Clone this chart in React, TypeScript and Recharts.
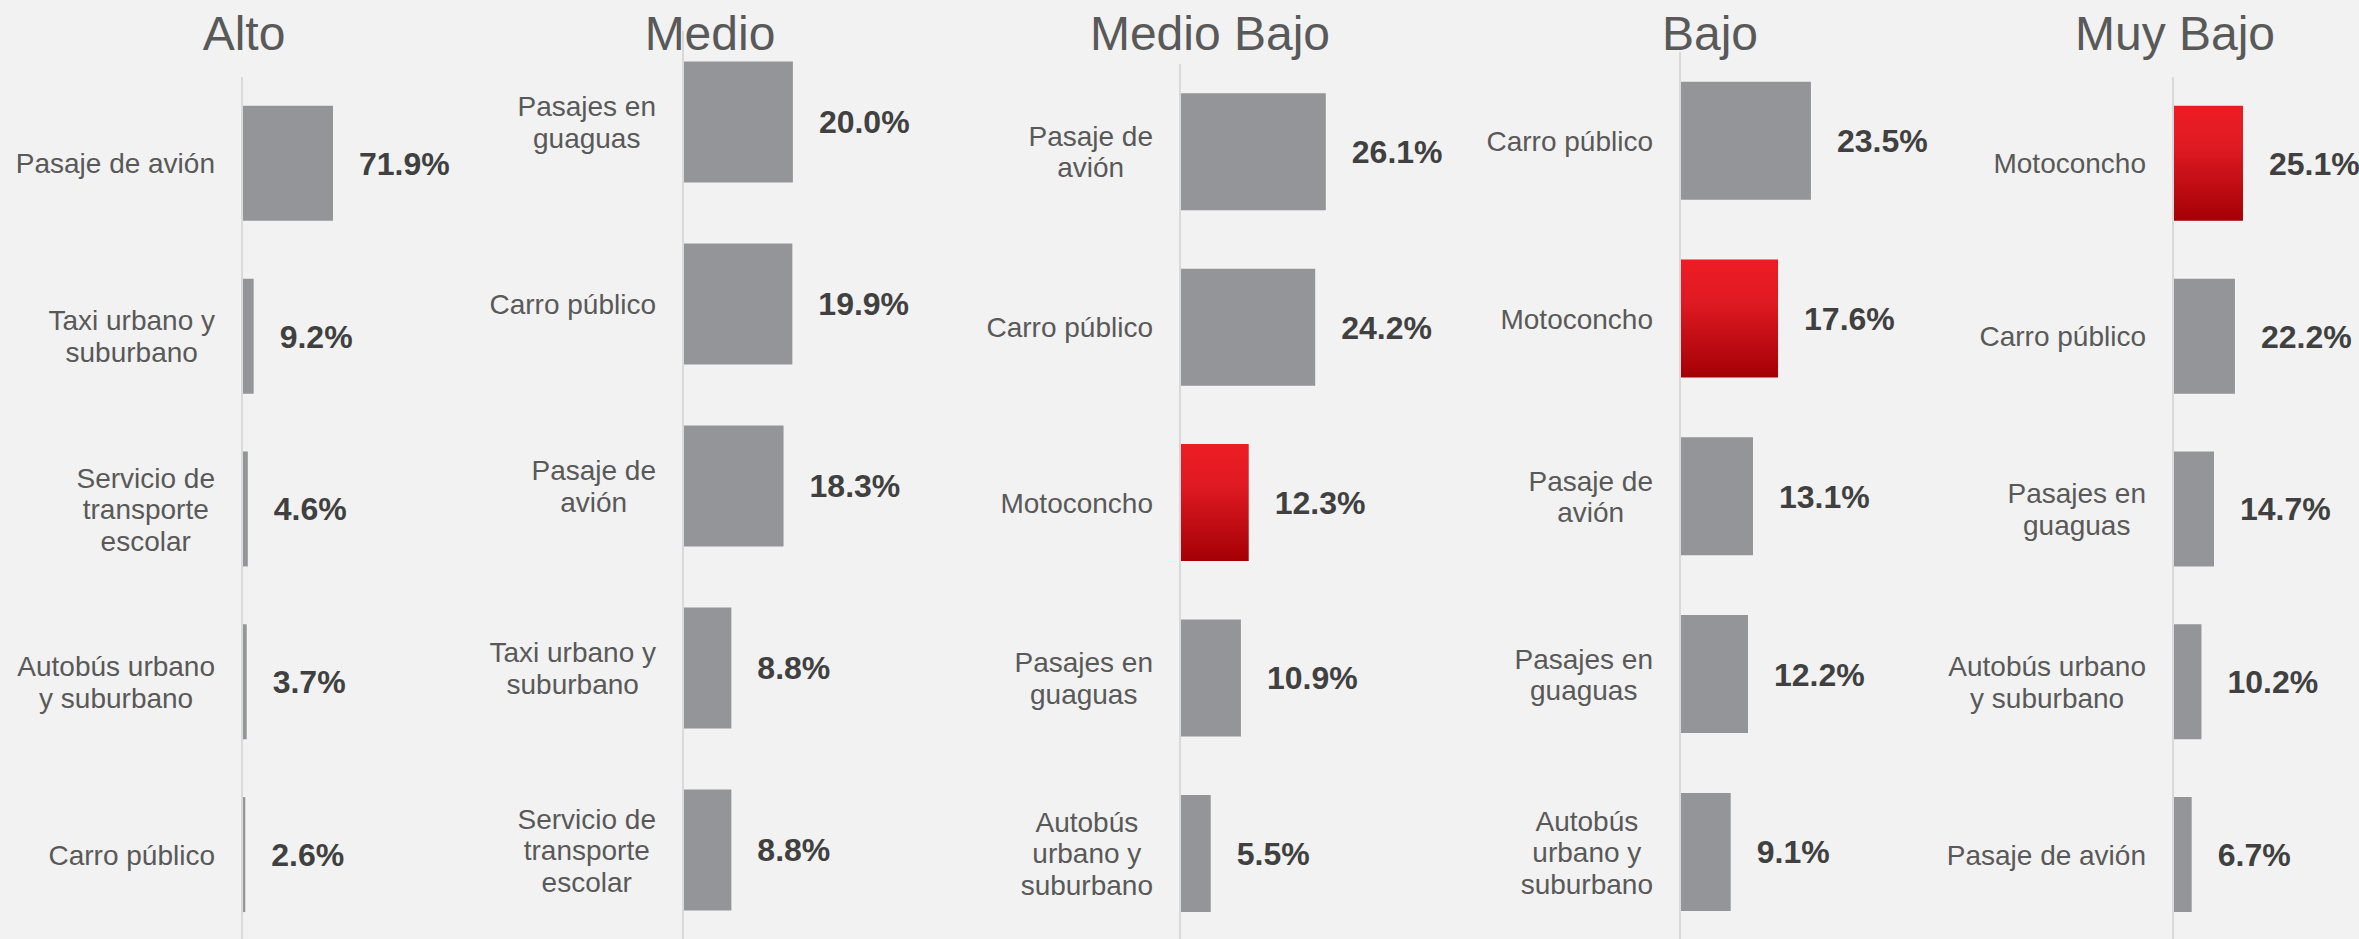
import React from 'react';
import { BarChart, Bar, XAxis, YAxis, Cell, LabelList } from 'recharts';

// titulos de cada panel
const titulos = ['Alto', 'Medio', 'Medio Bajo', 'Bajo', 'Muy Bajo'];

const altoCategorias = ['Pasaje de avión', 'Taxi urbano y suburbano', 'Servicio de transporte escolar', 'Autobús urbano y suburbano', 'Carro público'];
const altoValores = [71.9, 9.2, 4.6, 3.7, 2.6];

const medioCategorias = ['Pasajes en guaguas', 'Carro público', 'Pasaje de avión', 'Taxi urbano y suburbano', 'Servicio de transporte escolar'];
const medioValores = [20.0, 19.9, 18.3, 8.8, 8.8];

const medioBajoCategorias = ['Pasaje de avión', 'Carro público', 'Motoconcho', 'Pasajes en guaguas', 'Autobús urbano y suburbano'];
const medioBajoValores = [26.1, 24.2, 12.3, 10.9, 5.5];

const bajoCategorias = ['Carro público', 'Motoconcho', 'Pasaje de avión', 'Pasajes en guaguas', 'Autobús urbano y suburbano'];
const bajoValores = [23.5, 17.6, 13.1, 12.2, 9.1];

const muyBajoCategorias = ['Motoconcho', 'Carro público', 'Pasajes en guaguas', 'Autobús urbano y suburbano', 'Pasaje de avión'];
const muyBajoValores = [25.1, 22.2, 14.7, 10.2, 6.7];

const destacado = 'Motoconcho';

const FONT = '"Liberation Sans", Arial, Helvetica, sans-serif';
const GRIS = '#939598';
const EJE_W = 240;
const PLOT_W = 200;

const paneles = [
  { categorias: altoCategorias, valores: altoValores, eje: 242, arriba: 77, maximo: 158, ajuste: 210, tituloX: 244 },
  { categorias: medioCategorias, valores: medioValores, eje: 683, arriba: 31, maximo: 36.4, ajuste: 185, tituloX: 710 },
  { categorias: medioBajoCategorias, valores: medioBajoValores, eje: 1180, arriba: 64, maximo: 35.8, ajuste: 180, tituloX: 1210 },
  { categorias: bajoCategorias, valores: bajoValores, eje: 1680, arriba: 52, maximo: 35.9, ajuste: 180, tituloX: 1710 },
  { categorias: muyBajoCategorias, valores: muyBajoValores, eje: 2173, arriba: 77, maximo: 71.7, ajuste: 210, tituloX: 2175 },
];

let ctx: CanvasRenderingContext2D | null = null;
function medir(texto: string) {
  if (!ctx) ctx = document.createElement('canvas').getContext('2d');
  if (!ctx) return texto.length * 14;
  ctx.font = `28px ${FONT}`;
  return ctx.measureText(texto).width;
}

function partir(texto: string, max: number) {
  const lineas: string[] = [];
  let actual = '';
  for (const p of texto.split(' ')) {
    const prueba = actual ? actual + ' ' + p : p;
    if (actual && medir(prueba) > max) {
      lineas.push(actual);
      actual = p;
    } else {
      actual = prueba;
    }
  }
  if (actual) lineas.push(actual);
  return lineas;
}

function EtiquetaCategoria(props: any) {
  const { x, y, payload, ajuste } = props;
  const lineas = partir(String(payload.value), ajuste);
  const bloque = Math.max(...lineas.map(medir));
  const cx = x - bloque / 2;
  const lh = 31.5;
  return (
    <text textAnchor="middle" fill="#595959" fontSize={28} fontFamily={FONT}>
      {lineas.map((l, i) => (
        <tspan key={i} x={cx} y={y + (i - (lineas.length - 1) / 2) * lh + 10}>{l}</tspan>
      ))}
    </text>
  );
}

const etiquetaValor = (props: any) => {
  const { x, y, width, height, value } = props;
  return (
    <text x={x + width + 26} y={y + height / 2 + 11.5} fill="#404040" fontSize={32} fontWeight="bold" fontFamily={FONT}>
      {Number(value).toFixed(1)}%
    </text>
  );
};

function Panel({ panel, idx }: { panel: any; idx: number }) {
  const data = panel.categorias.map((c: string, i: number) => ({ name: c, value: panel.valores[i] }));
  return (
    <div style={{ position: 'absolute', left: panel.eje - EJE_W, top: 0 }}>
      <BarChart
        width={EJE_W + PLOT_W + 120}
        height={941}
        data={data}
        layout="vertical"
        margin={{ top: panel.arriba, right: 120, bottom: 0, left: 0 }}
        barCategoryGap="16.7%"
      >
        <defs>
          <linearGradient id={`rojo${idx}`} x1="0" y1="0" x2="0" y2="1">
            <stop offset="0%" stopColor="#ED1C24" />
            <stop offset="35%" stopColor="#E01A22" />
            <stop offset="100%" stopColor="#A30006" />
          </linearGradient>
        </defs>
        <XAxis type="number" hide domain={[0, panel.maximo]} allowDataOverflow />
        <YAxis
          type="category"
          dataKey="name"
          width={EJE_W}
          axisLine={{ stroke: '#d9d9d9', strokeWidth: 2 }}
          tickLine={false}
          tickSize={0}
          tickMargin={27}
          interval={0}
          tick={(p: any) => <EtiquetaCategoria {...p} ajuste={panel.ajuste} />}
        />
        <Bar dataKey="value" isAnimationActive={false}>
          {data.map((d: any, i: number) => (
            <Cell key={i} fill={d.name === destacado ? `url(#rojo${idx})` : GRIS} />
          ))}
          <LabelList dataKey="value" content={etiquetaValor} />
        </Bar>
      </BarChart>
    </div>
  );
}

export default function App() {
  return (
    <div style={{ position: 'absolute', left: 0, top: 0, width: 2359, height: 939, background: '#f2f2f2', overflow: 'hidden' }}>
      {paneles.map((p, i) => (
        <Panel key={i} panel={p} idx={i} />
      ))}
      <svg width={2359} height={939} style={{ position: 'absolute', left: 0, top: 0, pointerEvents: 'none' }}>
        {paneles.map((p, i) => (
          <text key={i} x={p.tituloX} y={50} textAnchor="middle" fill="#595959" fontSize={48} fontFamily={FONT}>
            {titulos[i]}
          </text>
        ))}
      </svg>
    </div>
  );
}
